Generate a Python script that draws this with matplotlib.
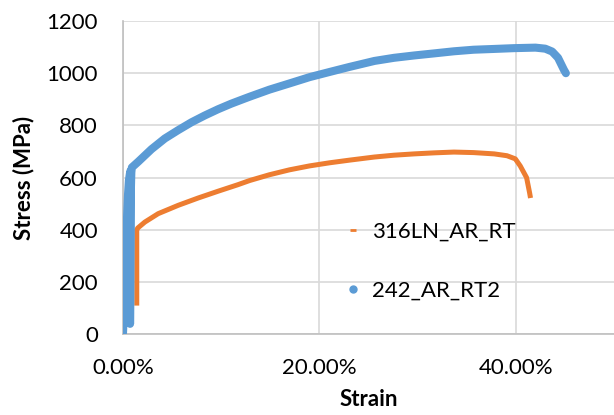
import matplotlib
matplotlib.use("Agg")
import matplotlib.pyplot as plt
from matplotlib.lines import Line2D
from matplotlib.ticker import FuncFormatter

plt.rcParams['font.family'] = ['Lato', 'DejaVu Sans']

# 242_AR_RT2 (blue)
strain_242 = [0.000, 0.001, 0.002, 0.003, 0.004, 0.005, 0.006, 0.007, 0.0075,
              0.0072, 0.0078, 0.0085, 0.0090, 0.0155, 0.029, 0.0426, 0.0562,
              0.0697, 0.0832, 0.0968, 0.110, 0.124, 0.129, 0.149, 0.1696, 0.190,
              0.2106, 0.2305, 0.256, 0.276, 0.2965, 0.317, 0.337, 0.357, 0.378,
              0.398, 0.420, 0.430, 0.437, 0.443, 0.449, 0.451]
stress_242 = [5, 90, 210, 330, 440, 530, 590, 615, 625,
              40, 520, 620, 639, 661, 709, 750, 782,
              812, 838, 862, 883, 903, 910, 937, 961, 985,
              1005, 1024, 1047, 1059, 1068, 1076, 1084, 1090, 1093,
              1096, 1098, 1094, 1083, 1059, 1013, 1000]

# 316LN_AR_RT (orange)
strain_316 = [0.0140, 0.0140, 0.0150, 0.0223, 0.0358, 0.0562, 0.0765, 0.0968,
              0.117, 0.129, 0.149, 0.1696, 0.190, 0.2106, 0.2305, 0.256, 0.276,
              0.2965, 0.317, 0.337, 0.357, 0.378, 0.391, 0.3995, 0.4045, 0.411,
              0.414, 0.415]
stress_316 = [110, 400, 407, 430, 462, 494, 522, 548,
              573, 589, 611, 630, 645, 657, 667, 679, 686,
              691, 695, 698, 696, 691, 684, 672, 645, 600,
              543, 522]

label_316 = "316LN_AR_RT"
label_242 = "242_AR_RT2"
x_ticks = [0.0, 0.2, 0.4]
y_ticks = [0, 200, 400, 600, 800, 1000, 1200]

blue = "#5B9BD5"
orange = "#ED7D31"

fig = plt.figure(figsize=(6.14, 4.15), dpi=100)
ax = fig.add_axes([123/614, 80.7/415, 1 - 123/614, (334.3-21)/415])

ax.plot(strain_316, stress_316, color=orange, lw=3.6, solid_capstyle='butt',
        solid_joinstyle='round', zorder=3)
ax.plot(strain_242, stress_242, color=blue, lw=5.8, solid_capstyle='round',
        solid_joinstyle='round', zorder=4)

ax.set_xlim(0, 0.5)
ax.set_ylim(0, 1200)
ax.set_xticks(x_ticks)
ax.set_yticks(y_ticks)
ax.xaxis.set_major_formatter(FuncFormatter(lambda v, p: f"{v*100:.2f}%"))
ax.grid(True, color="#d9d9d9", lw=1.2)
ax.set_axisbelow(True)
for s in ['top', 'right']:
    ax.spines[s].set_visible(False)
for s in ['left', 'bottom']:
    ax.spines[s].set_color('#bfbfbf')
    ax.spines[s].set_linewidth(1.2)
ax.tick_params(length=0, labelsize=16, colors='black')
ax.tick_params(axis='y', pad=18)
ax.tick_params(axis='x', pad=17)

ax.set_xlabel("Strain", fontsize=16, fontweight='bold', labelpad=8)
ax.set_ylabel("Stress (MPa)", fontsize=16, fontweight='bold', labelpad=9)

handles = [Line2D([], [], color=orange, marker='_', ls='none', markersize=5, mew=2),
           Line2D([], [], color=blue, marker='o', ls='none', markersize=5)]
fig.legend(handles, [label_316, label_242], loc='upper left',
           bbox_to_anchor=(346/614, 1 - 222/415), frameon=False, fontsize=16,
           handlelength=0.6, handletextpad=0.55, labelspacing=1.75,
           borderaxespad=0, borderpad=0)

fig.savefig("out.png", dpi=100)
